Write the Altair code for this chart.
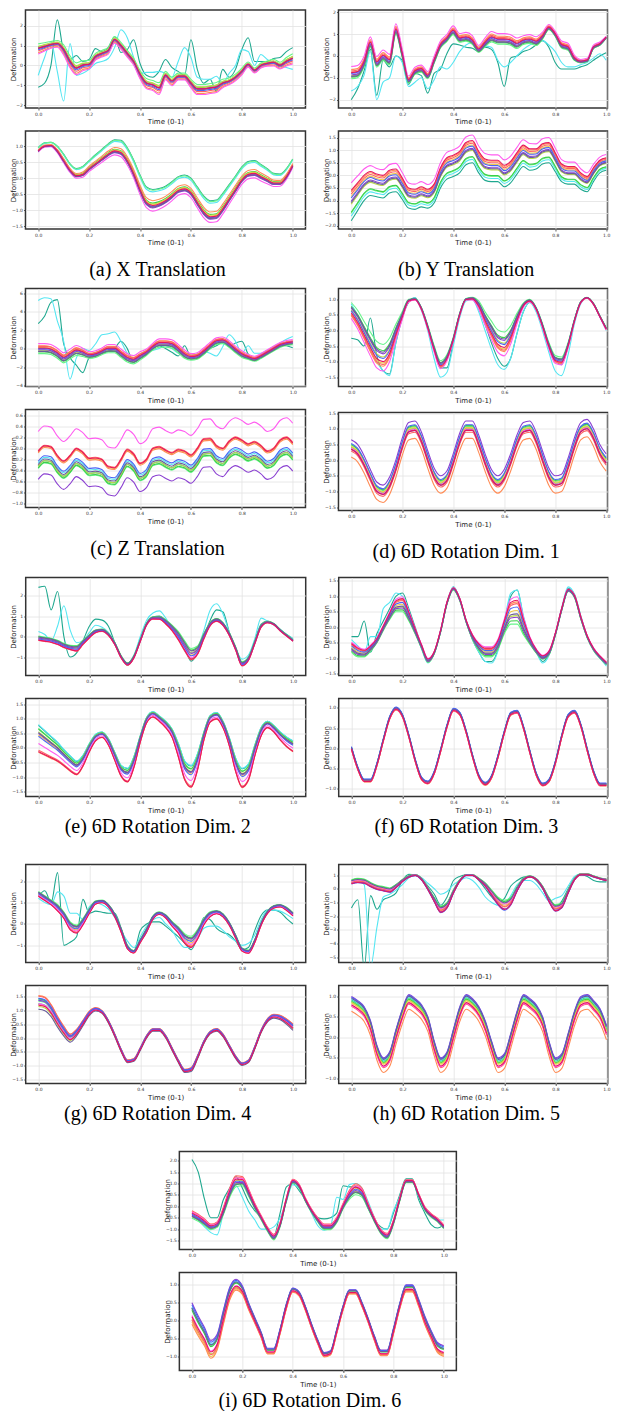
import altair as alt
import pandas as pd

T = [0.0, 0.025, 0.05, 0.075, 0.1, 0.125, 0.15, 0.175, 0.2, 0.225,
     0.25, 0.275, 0.3, 0.325, 0.35, 0.375, 0.4, 0.425, 0.45, 0.475,
     0.5, 0.525, 0.55, 0.575, 0.6, 0.625, 0.65, 0.675, 0.7, 0.725,
     0.75, 0.775, 0.8, 0.825, 0.85, 0.875, 0.9, 0.925, 0.95, 0.975, 1.0]
XTICKS = [0.0, 0.2, 0.4, 0.6, 0.8, 1.0]

SERIES = ["teal", "cyan", "lightgreen", "green", "yellowgreen", "gold", "orange",
          "salmon", "magenta", "purple", "blue", "slate", "crimson"]
COLORS = ["#1fa88f", "#55e6f2", "#66f58a", "#3ccf4a", "#b9d94a", "#eec84a", "#ff8c55",
          "#ff6363", "#ff5cf0", "#8a3fd1", "#4a63f5", "#6a5c9a", "#e6155f"]
BUNDLE = SERIES[2:]

# ---------------- (a) X Translation ----------------
A_TOP_CENTER = [0.85, 0.95, 1.05, 1.1, 0.8, 0.2, -0.15, 0.0, 0.05, 0.45,
                0.6, 0.75, 1.3, 1.0, 0.6, 0.2, -0.45, -0.9, -1.0, -1.15,
                -0.5, -0.8, -0.55, -0.55, -0.9, -1.2, -1.2, -1.15, -1.1, -0.9,
                -0.8, -0.6, -0.3, 0.05, -0.25, 0.0, 0.1, 0.15, 0.0, 0.2, 0.35]
A_TOP_SPREAD = [0.3, 0.25, 0.2, 0.2, 0.3, 0.35, 0.35, 0.3, 0.25, 0.2,
                0.2, 0.2, 0.2, 0.2, 0.2, 0.2, 0.25, 0.3, 0.3, 0.35,
                0.25, 0.25, 0.2, 0.2, 0.25, 0.3, 0.3, 0.3, 0.3, 0.25,
                0.2, 0.2, 0.2, 0.15, 0.15, 0.15, 0.15, 0.2, 0.2, 0.25, 0.3]
A_TOP_TEAL = [-1.1, -0.9, 0.0, 2.3, 0.7, 0.3, 0.5, 0.2, 0.3, 0.85,
              0.7, 0.9, 1.45, 0.65, 0.8, 1.3, 0.1, -0.5, -0.6, -0.3,
              0.3, -0.1, -0.3, -0.5, 1.3, -0.2, -0.9, -0.7, -1.3, -0.2,
              -0.6, -0.2, 0.8, 1.4, 0.2, 0.2, 0.2, 0.35, 0.4, 0.7, 0.9]
A_TOP_CYAN = [-0.5, 0.4, 1.2, -0.3, -1.8, 1.1, -0.5, -0.4, -0.2, 0.1,
              0.2, 0.35, 0.9, 1.8, 1.4, 0.4, -0.4, -0.35, -0.35, -0.3,
              -0.4, -0.6, 0.2, 0.9, 0.4, -0.6, -0.7, -0.7, -0.55, -0.9,
              -0.4, 0.0, 0.8, 0.7, 0.0, 0.55, 0.3, 0.1, 0.0, -0.1, -0.2]
A_TOP_W = [0.8, 0.3, 0.4, 0.2, -0.7, -0.4, -0.9, 0.1, -0.2, 0.0, 0.05]
A_BOT_CENTER = [0.85, 1.0, 1.02, 0.85, 0.55, 0.25, 0.08, 0.12, 0.3, 0.45,
                0.6, 0.75, 0.85, 0.8, 0.55, 0.15, -0.35, -0.75, -0.85, -0.8,
                -0.7, -0.55, -0.38, -0.33, -0.45, -0.75, -1.05, -1.2, -1.18, -0.95,
                -0.65, -0.35, -0.05, 0.12, 0.15, 0.05, -0.05, -0.15, -0.15, 0.05, 0.4]
A_BOT_SPREAD = [0.1, 0.1, 0.1, 0.15, 0.2, 0.2, 0.22, 0.25, 0.25, 0.28,
                0.3, 0.32, 0.35, 0.38, 0.4, 0.42, 0.45, 0.48, 0.5, 0.48,
                0.45, 0.44, 0.43, 0.43, 0.45, 0.48, 0.5, 0.5, 0.5, 0.48,
                0.45, 0.42, 0.4, 0.4, 0.4, 0.38, 0.35, 0.3, 0.28, 0.25, 0.2]
A_BOT_W = [1.0, 0.85, 0.95, 0.15, 0.1, 0.05, 0.3, -0.1, -0.35, -0.15, -0.05, -0.1, 0.0]

# ---------------- (b) Y Translation ----------------
B_TOP_CENTER = [-0.8, -0.75, -0.3, 0.6, -0.3, 0.0, -0.2, 1.2, 0.1, -1.1,
                -0.7, -0.6, -0.9, -0.2, 0.5, 0.8, 1.15, 0.8, 0.85, 0.7,
                0.3, 0.6, 0.85, 0.75, 0.75, 0.7, 0.55, 0.7, 0.75, 0.65,
                0.9, 1.3, 1.0, 0.5, 0.4, -0.1, -0.25, -0.2, 0.4, 0.55, 0.85]
B_TOP_SPREAD = [0.35, 0.35, 0.3, 0.3, 0.3, 0.3, 0.3, 0.3, 0.25, 0.2,
                0.2, 0.2, 0.2, 0.2, 0.2, 0.2, 0.25, 0.25, 0.25, 0.25,
                0.2, 0.25, 0.3, 0.3, 0.3, 0.3, 0.3, 0.25, 0.25, 0.25,
                0.2, 0.15, 0.15, 0.2, 0.2, 0.15, 0.1, 0.1, 0.1, 0.1, 0.05]
B_TOP_TEAL = [-2.0, -1.5, -0.7, 0.3, -1.8, -0.2, -0.5, 0.0, -0.2, -1.3,
              -0.8, -0.9, -1.7, -0.8, -0.6, 0.1, 0.55, 0.5, 0.4, 0.35,
              0.2, 0.4, 0.3, -0.3, -1.4, -0.1, 0.0, 0.2, 0.3, 0.5,
              0.7, 0.4, -0.3, -0.6, -0.6, -0.6, -0.5, -0.4, -0.2, 0.0, 0.15]
B_TOP_CYAN = [-1.6, -1.4, -0.9, 0.2, -2.0, -1.2, -1.0, 0.0, -0.3, -1.4,
              -1.2, -1.0, -1.5, -1.1, -0.5, -0.6, -0.3, 0.2, 0.5, 0.6,
              0.4, 0.45, 0.4, -0.2, -0.5, -0.3, 0.0, 0.3, 0.5, 0.6,
              0.7, 0.5, 0.2, -0.3, -0.5, -0.5, -0.4, -0.3, -0.1, 0.1, -0.2]
B_TOP_W = [-0.7, -0.5, -0.3, 0.1, 0.5, 0.3, 0.9, -0.2, 0.0, -0.4, 0.1]
B_BOT_CENTER = [-0.6, -0.3, 0.0, 0.15, 0.05, 0.0, 0.2, 0.25, -0.1, -0.5,
                -0.55, -0.45, -0.55, -0.35, 0.3, 0.7, 0.8, 0.95, 1.3, 1.38,
                0.95, 0.65, 0.6, 0.6, 0.4, 0.55, 0.9, 1.2, 1.05, 1.05,
                1.25, 1.3, 0.9, 0.45, 0.35, 0.35, 0.1, -0.05, 0.3, 0.6, 0.7]
B_BOT_SPREAD = [1.2, 1.1, 1.0, 0.95, 0.9, 0.9, 0.9, 0.9, 0.85, 0.8,
                0.8, 0.8, 0.75, 0.75, 0.8, 0.85, 0.85, 0.85, 0.88, 0.88,
                0.85, 0.85, 0.85, 0.85, 0.85, 0.85, 0.85, 0.85, 0.85, 0.8,
                0.8, 0.8, 0.75, 0.7, 0.7, 0.7, 0.65, 0.6, 0.55, 0.5, 0.5]
B_BOT_W = [-1.0, -0.85, -0.75, -0.72, -0.45, -0.2, -0.05, -0.12, 0.25, -0.35, -0.25, -0.4, 0.0]

# ---------------- (c) Z Translation ----------------
C_TOP_CENTER = [0.0, 0.0, -0.1, -0.5, -1.0, -0.6, -0.2, -0.4, -0.7, -0.6,
                -0.3, 0.0, 0.0, -0.5, -1.0, -1.2, -0.8, -0.4, 0.2, 0.6,
                0.6, 0.5, 0.0, -0.6, -0.9, -0.8, -0.3, 0.3, 0.8, 0.9,
                0.5, -0.1, -0.6, -0.9, -1.1, -0.8, -0.4, 0.0, 0.4, 0.6, 0.7]
C_TOP_SPREAD = [0.6, 0.6, 0.6, 0.6, 0.6, 0.6, 0.6, 0.5, 0.4, 0.4,
                0.4, 0.5, 0.5, 0.5, 0.5, 0.5, 0.5, 0.4, 0.4, 0.5,
                0.5, 0.5, 0.5, 0.5, 0.4, 0.4, 0.4, 0.4, 0.4, 0.4,
                0.4, 0.4, 0.4, 0.3, 0.3, 0.3, 0.3, 0.3, 0.3, 0.3, 0.3]
C_TOP_TEAL = [2.7, 3.5, 5.0, 5.3, 0.5, -1.0, -1.8, -2.6, -1.0, -0.7,
              -0.5, -0.3, 0.0, 0.8, 0.0, -1.5, -1.0, -0.6, 0.0, 0.3,
              0.0, -0.4, -0.8, 0.3, -0.9, -1.0, -0.6, 0.0, 0.3, 0.7,
              0.2, 0.6, 0.8, -0.6, -1.3, -0.6, -0.2, 0.2, 0.4, 0.3, 0.1]
C_TOP_CYAN = [5.2, 5.5, 5.4, 3.0, 0.8, -3.3, -1.0, 0.0, -0.2, 0.5,
              1.5, 1.6, 1.8, 0.8, -0.5, -1.2, -0.6, -0.3, -0.2, 0.0,
              0.3, 0.0, -0.5, -0.6, -0.7, -0.6, -0.3, -0.5, -0.8, 0.2,
              1.5, 0.8, -0.5, 0.3, -0.5, -0.5, -0.3, 0.2, 0.6, 1.0, 1.3]
C_TOP_W = [-0.9, -0.6, -0.3, 0.2, 0.5, 0.4, 0.9, -0.2, 0.0, -0.5, 0.1]
C_BOT_CENTER = [-0.3, -0.2, -0.22, -0.38, -0.48, -0.38, -0.25, -0.32, -0.43, -0.42,
                -0.45, -0.58, -0.6, -0.45, -0.27, -0.35, -0.52, -0.45, -0.25, -0.22,
                -0.28, -0.33, -0.27, -0.3, -0.37, -0.25, -0.08, -0.07, -0.2, -0.25,
                -0.12, -0.05, -0.1, -0.17, -0.13, -0.2, -0.3, -0.25, -0.1, -0.05, -0.15]
C_BOT_SPREAD = 0.6
C_BOT_W = [-0.05, 0.05, -0.12, -0.1, -0.05, 0.38, 0.35, 0.42, 1.0, -0.45, 0.1, 0.0, 0.4]

# ---------------- (d) 6D Rotation Dim. 1 ----------------
D_TOP_CENTER = [0.6, 0.3, -0.1, -0.5, -0.85, -0.95, -0.7, -0.1, 0.45, 0.95,
                1.0, 0.7, 0.1, -0.6, -1.12, -0.9, -0.3, 0.5, 1.0, 1.02,
                0.8, 0.35, -0.05, -0.4, -0.5, -0.2, 0.35, 0.8, 0.95, 0.7,
                0.15, -0.5, -0.95, -1.0, -0.5, 0.3, 0.9, 1.05, 0.85, 0.45, 0.05]
D_TOP_SPREAD = [0.3, 0.35, 0.4, 0.45, 0.5, 0.5, 0.45, 0.3, 0.15, 0.05,
                0.03, 0.05, 0.08, 0.12, 0.15, 0.12, 0.08, 0.05, 0.03, 0.05,
                0.15, 0.25, 0.35, 0.42, 0.45, 0.35, 0.2, 0.08, 0.05, 0.05,
                0.08, 0.12, 0.15, 0.15, 0.1, 0.05, 0.03, 0.02, 0.03, 0.03, 0.05]
D_TOP_TEAL = [-0.25, -0.3, -0.5, 0.4, -0.8, -1.3, -1.4, -0.4, 0.4, 0.9,
              1.05, 0.7, 0.1, -0.6, -1.2, -1.2, -0.4, 0.45, 1.0, 1.0,
              0.7, 0.2, -0.4, -0.9, -1.15, -0.9, -0.1, 0.6, 0.9, 0.7,
              0.15, -0.5, -0.95, -1.1, -0.5, 0.3, 0.9, 1.05, 0.85, 0.45, 0.05]
D_TOP_CYAN = [0.85, 0.5, 0.1, -0.5, -1.0, -1.3, -1.45, -0.4, 0.4, 0.95,
              1.05, 0.65, 0.0, -0.9, -1.5, -1.35, -0.5, 0.4, 0.95, 1.0,
              0.6, 0.0, -0.6, -1.1, -1.25, -0.9, -0.1, 0.6, 0.9, 0.6,
              0.0, -0.7, -1.3, -1.45, -0.8, 0.2, 0.85, 1.05, 0.85, 0.45, 0.0]
D_TOP_W = [1.0, 0.6, 0.2, -0.2, -0.4, -0.3, -0.7, 0.4, 0.1, 0.5, -0.1]
D_BOT_CENTER = [0.35, 0.2, -0.15, -0.6, -1.0, -1.1, -0.85, -0.3, 0.4, 0.9,
                0.95, 0.6, 0.0, -0.55, -0.8, -0.65, -0.1, 0.55, 0.95, 0.95,
                0.5, -0.1, -0.6, -0.8, -0.6, -0.1, 0.5, 0.9, 0.95, 0.6,
                0.0, -0.55, -0.8, -0.75, -0.25, 0.4, 0.9, 1.0, 0.7, 0.2, -0.1]
D_BOT_SPREAD = 0.3
D_BOT_W = [0.2, 0.1, 0.4, 0.5, 0.2, 0.3, -0.85, -0.2, 0.1, 1.0, 0.6, 0.0, 0.0]

# ---------------- (e) 6D Rotation Dim. 2 ----------------
E_TOP_CENTER = [-0.1, -0.15, -0.2, -0.3, -0.45, -0.55, -0.6, -0.3, 0.0, 0.25,
                0.3, 0.1, -0.35, -1.0, -1.35, -1.0, -0.2, 0.6, 0.9, 0.9,
                0.7, 0.4, 0.0, -0.5, -0.9, -0.7, 0.0, 0.6, 0.8, 0.6,
                0.1, -0.6, -1.35, -1.1, -0.3, 0.5, 0.7, 0.6, 0.3, 0.05, -0.2]
E_TOP_SPREAD = [0.15, 0.15, 0.15, 0.15, 0.15, 0.15, 0.2, 0.15, 0.12, 0.1,
                0.08, 0.08, 0.08, 0.08, 0.08, 0.08, 0.08, 0.08, 0.08, 0.1,
                0.15, 0.2, 0.3, 0.35, 0.4, 0.3, 0.2, 0.12, 0.1, 0.1,
                0.1, 0.12, 0.15, 0.12, 0.1, 0.08, 0.05, 0.05, 0.05, 0.05, 0.05]
E_TOP_TEAL = [2.4, 2.45, 1.3, 2.2, 0.0, -1.0, -0.8, -0.2, 0.5, 0.85,
              0.8, 0.5, -0.3, -1.0, -1.4, -1.0, -0.2, 0.6, 0.95, 1.0,
              0.8, 0.5, 0.0, -0.6, -1.2, -0.8, 0.0, 0.8, 1.3, 1.2,
              0.2, -0.6, -1.4, -1.0, -0.2, 0.6, 0.75, 0.6, 0.35, 0.1, -0.1]
E_TOP_CYAN = [0.25, 0.1, -0.2, 0.5, 1.5, 0.3, -0.3, -0.2, 0.2, 0.55,
              0.45, 0.2, -0.3, -1.0, -1.3, -0.9, 0.0, 0.8, 1.15, 1.25,
              0.9, 0.4, -0.1, -0.7, -1.1, -0.6, 0.3, 1.3, 1.6, 1.1,
              0.2, -0.6, -1.1, -0.9, -0.1, 0.9, 0.75, 0.55, 0.35, 0.1, -0.1]
E_TOP_W = [0.8, 0.6, 0.3, 0.0, -0.4, -0.6, -0.3, 0.2, -0.1, 0.5, -0.5]
E_BOT_CENTER = [0.3, 0.15, 0.0, -0.15, -0.35, -0.55, -0.7, -0.45, 0.0, 0.35,
                0.45, 0.2, -0.3, -0.8, -0.95, -0.5, 0.3, 0.95, 1.15, 1.0,
                0.8, 0.5, -0.1, -0.8, -1.0, -0.5, 0.4, 1.0, 1.1, 0.8,
                0.2, -0.6, -1.05, -0.85, -0.1, 0.55, 0.8, 0.65, 0.4, 0.2, 0.05]
E_BOT_SPREAD = [0.5, 0.45, 0.4, 0.35, 0.3, 0.28, 0.25, 0.2, 0.15, 0.12,
                0.1, 0.12, 0.15, 0.2, 0.25, 0.2, 0.12, 0.1, 0.1, 0.1,
                0.12, 0.15, 0.25, 0.35, 0.4, 0.3, 0.15, 0.12, 0.12, 0.12,
                0.15, 0.25, 0.35, 0.3, 0.2, 0.15, 0.12, 0.12, 0.15, 0.18, 0.2]
E_BOT_W = [0.95, 1.0, 0.75, 0.7, 0.5, 0.3, -0.9, -0.75, -0.3, 0.4, 0.2, 0.45, -0.85]

# ---------------- (f) 6D Rotation Dim. 3 ----------------
F_TOP_CENTER = [-0.6, -0.75, -0.8, -0.65, -0.4, 0.0, 0.4, 0.75, 0.8, 0.4,
                -0.1, -0.6, -1.05, -0.8, -0.1, 0.8, 1.25, 0.9, 0.2, -0.3,
                -0.6, -0.75, -0.75, -0.5, 0.1, 0.6, 0.65, 0.1, -0.4, -0.75,
                -0.95, -0.8, -0.2, 0.6, 1.2, 1.0, 0.3, -0.3, -0.7, -0.95, -1.15]
F_TOP_SPREAD = [0.2, 0.2, 0.15, 0.12, 0.1, 0.1, 0.15, 0.25, 0.3, 0.2,
                0.12, 0.08, 0.08, 0.05, 0.05, 0.05, 0.05, 0.05, 0.05, 0.1,
                0.15, 0.2, 0.2, 0.2, 0.3, 0.5, 0.55, 0.35, 0.15, 0.08,
                0.08, 0.08, 0.05, 0.05, 0.05, 0.05, 0.05, 0.05, 0.05, 0.05, 0.05]
F_TOP_TEAL = [-0.3, -0.3, 0.2, -0.8, -0.2, 0.2, 0.6, 1.0, 1.1, 0.6,
              0.0, -0.6, -1.1, -0.8, -0.1, 0.8, 1.3, 0.9, 0.2, -0.4,
              -0.8, -1.1, -1.1, -0.7, 0.2, 1.0, 1.2, 0.3, -0.4, -0.8,
              -1.1, -0.85, -0.2, 0.6, 1.25, 1.05, 0.35, -0.3, -0.7, -0.95, -1.2]
F_TOP_CYAN = [-0.4, -0.6, -0.8, -0.3, -0.3, 0.6, 0.8, 1.1, 1.0, 0.5,
              -0.1, -0.7, -1.15, -0.8, -0.1, 0.8, 1.3, 0.9, 0.2, -0.4,
              -0.8, -1.1, -1.15, -0.75, 0.2, 1.1, 1.2, 0.35, -0.35, -0.8,
              -1.15, -0.9, -0.2, 0.65, 1.3, 1.05, 0.35, -0.3, -0.75, -1.0, -1.25]
F_TOP_W = [-1.0, -0.8, -0.5, -0.2, 0.3, 0.2, 0.6, -0.6, 0.0, -0.4, 0.4]
F_BOT_CENTER = [0.0, -0.5, -0.8, -0.8, -0.4, 0.2, 0.75, 0.98, 0.8, 0.3,
                -0.3, -0.75, -0.85, -0.6, -0.05, 0.55, 0.95, 0.85, 0.4, -0.2,
                -0.7, -0.88, -0.7, -0.2, 0.4, 0.85, 0.9, 0.5, -0.1, -0.65,
                -0.9, -0.8, -0.35, 0.3, 0.8, 0.9, 0.55, -0.05, -0.6, -0.9, -0.9]
F_BOT_SPREAD = 0.04
F_BOT_W = [0.5, 0.8, 0.3, 0.2, -0.2, -0.5, -0.8, -0.6, -0.3, 0.6, 1.0, 0.4, -0.4]

# ---------------- (g) 6D Rotation Dim. 4 ----------------
G_TOP_CENTER = [1.4, 1.2, 1.0, 0.75, 0.4, -0.1, -0.25, 0.1, 0.6, 1.0,
                1.05, 0.85, 0.4, -0.3, -1.1, -1.3, -0.8, -0.3, 0.3, 0.5,
                0.35, 0.0, -0.3, -0.7, -0.85, -0.5, 0.1, 0.45, 0.55, 0.4,
                0.0, -0.6, -1.2, -1.3, -0.8, 0.0, 0.55, 0.8, 0.85, 0.7, 0.45]
G_TOP_SPREAD = [0.15, 0.15, 0.15, 0.2, 0.2, 0.25, 0.25, 0.2, 0.15, 0.1,
                0.08, 0.08, 0.1, 0.12, 0.1, 0.08, 0.1, 0.12, 0.1, 0.08,
                0.1, 0.15, 0.2, 0.3, 0.35, 0.3, 0.2, 0.15, 0.1, 0.1,
                0.1, 0.1, 0.1, 0.1, 0.1, 0.08, 0.08, 0.08, 0.08, 0.1, 0.1]
G_TOP_TEAL = [1.3, 1.55, 1.0, 2.4, -1.0, -0.85, -0.6, 1.15, 0.5, 0.6,
              0.55, 0.5, 0.5, -0.2, -1.0, -1.25, -0.3, 0.0, 0.1, 0.1,
              -0.1, -0.35, -0.6, -0.9, -1.2, -0.6, 0.3, 0.2, -0.2, -0.4,
              -0.5, -0.8, -1.2, -1.1, -0.3, 0.4, 0.65, 0.65, 0.55, 0.25, 0.0]
G_TOP_CYAN = [1.2, 1.0, 0.9, 1.5, 1.3, 0.5, 0.5, 0.2, 0.8, 1.0,
              0.9, 0.7, 0.3, -0.3, -0.8, -1.1, -0.6, -0.1, 0.2, 0.3,
              0.0, -0.3, -0.8, -1.1, -1.1, -0.7, -0.2, -0.1, -0.1, -0.3,
              -0.6, -0.8, -1.0, -0.9, -0.5, 0.2, 0.65, 0.65, 0.6, 0.45, 0.25]
G_TOP_W = [0.8, 0.6, 0.2, -0.1, -0.5, -0.6, -0.3, 0.4, 0.1, 0.5, -0.7]
G_BOT_CENTER = [1.3, 1.25, 1.0, 0.6, 0.25, 0.0, 0.2, 0.55, 0.9, 1.05,
                0.95, 0.6, 0.1, -0.45, -0.85, -0.8, -0.4, 0.05, 0.3, 0.3,
                0.05, -0.4, -0.85, -1.2, -1.15, -0.7, -0.15, 0.2, 0.3, 0.1,
                -0.3, -0.7, -0.95, -0.85, -0.35, 0.25, 0.65, 0.8, 0.75, 0.6, 0.4]
G_BOT_SPREAD = [0.25, 0.25, 0.22, 0.2, 0.18, 0.15, 0.12, 0.1, 0.08, 0.06,
                0.05, 0.05, 0.05, 0.05, 0.05, 0.05, 0.05, 0.05, 0.05, 0.05,
                0.05, 0.05, 0.05, 0.06, 0.07, 0.06, 0.05, 0.05, 0.05, 0.05,
                0.05, 0.05, 0.05, 0.05, 0.05, 0.05, 0.06, 0.07, 0.08, 0.1, 0.12]
G_BOT_W = [-0.2, 0.4, 0.2, 0.5, -0.6, -0.3, 1.0, 0.9, -0.2, 0.3, 0.6, -1.0, -0.4]

# ---------------- (h) 6D Rotation Dim. 5 ----------------
H_TOP_CENTER = [0.5, 0.6, 0.55, 0.3, 0.1, 0.0, -0.1, 0.2, 0.6, 0.9,
                1.0, 0.7, 0.0, -0.8, -1.5, -1.2, -0.2, 0.6, 1.0, 1.0,
                0.7, 0.3, -0.3, -0.9, -1.2, -0.9, 0.0, 0.7, 0.9, 0.7,
                0.1, -0.8, -1.4, -1.2, -0.2, 0.7, 1.05, 1.05, 0.9, 0.75, 0.65]
H_TOP_SPREAD = [0.2, 0.2, 0.2, 0.2, 0.2, 0.2, 0.2, 0.15, 0.1, 0.08,
                0.05, 0.08, 0.1, 0.2, 0.3, 0.25, 0.15, 0.08, 0.05, 0.05,
                0.08, 0.15, 0.25, 0.35, 0.45, 0.35, 0.2, 0.1, 0.05, 0.05,
                0.1, 0.2, 0.3, 0.25, 0.15, 0.08, 0.05, 0.05, 0.05, 0.05, 0.08]
H_TOP_TEAL = [-1.4, -0.8, -5.8, -0.5, -1.5, -0.8, -0.6, -0.3, 0.6, 1.05,
              1.0, 0.7, 0.2, -0.4, -1.2, -0.6, 0.6, 0.9, 1.0, 1.0,
              0.6, 0.0, -0.6, -1.0, -0.7, 0.2, 0.6, 0.85, 0.9, 0.6,
              0.0, -0.8, -1.3, -0.9, 0.0, 0.8, 1.0, 0.9, 0.6, 0.5, 0.5]
H_TOP_CYAN = [0.6, 0.6, 0.3, -5.7, -2.8, -0.6, -0.4, -0.1, 0.3, 0.8,
              1.0, 0.8, 0.4, 0.0, -0.4, -0.2, 0.3, 0.6, 0.8, 0.6,
              0.1, -0.6, -1.0, -1.2, -1.1, -0.5, 0.3, 0.6, 0.6, 0.3,
              -0.3, -0.9, -0.7, -0.5, 0.2, 0.9, 1.1, 1.0, 0.85, 0.75, 0.65]
H_TOP_W = [0.8, 0.6, 0.3, 0.0, -0.3, -0.2, 0.2, -0.6, -0.8, 0.4, -0.7]
H_BOT_CENTER = [0.8, 0.7, 0.55, 0.2, -0.4, -0.7, -0.55, 0.0, 0.5, 0.85,
                0.75, 0.6, 0.3, -0.3, -0.7, -0.55, 0.0, 0.55, 0.85, 0.75,
                0.55, 0.2, -0.3, -0.7, -0.6, -0.1, 0.45, 0.85, 0.75, 0.6,
                0.3, -0.3, -0.7, -0.6, -0.1, 0.45, 0.8, 0.85, 0.7, 0.5, 0.1]
H_BOT_SPREAD = 0.2
H_BOT_W = [0.6, 0.7, 0.5, 0.4, 0.3, 0.2, -0.8, -0.2, -0.1, 1.0, 0.9, 0.8, 0.0]

# ---------------- (i) 6D Rotation Dim. 6 ----------------
I_TOP_CENTER = [-0.35, -0.5, -0.7, -0.9, -0.8, -0.2, 0.6, 1.1, 1.1, 0.6,
                0.0, -0.5, -1.0, -1.35, -0.8, 0.3, 1.1, 0.9, 0.3, -0.2,
                -0.6, -0.9, -0.9, -0.6, 0.0, 0.5, 0.75, 0.6, 0.0, -0.6,
                -1.1, -1.3, -0.7, 0.3, 1.1, 1.1, 0.5, -0.1, -0.4, -0.6, -0.9]
I_TOP_SPREAD = [0.2, 0.2, 0.18, 0.15, 0.15, 0.2, 0.25, 0.3, 0.25, 0.2,
                0.15, 0.12, 0.12, 0.15, 0.12, 0.1, 0.1, 0.1, 0.1, 0.1,
                0.12, 0.15, 0.15, 0.15, 0.15, 0.25, 0.3, 0.25, 0.15, 0.12,
                0.12, 0.15, 0.12, 0.1, 0.08, 0.08, 0.08, 0.1, 0.1, 0.1, 0.1]
I_TOP_TEAL = [2.05, 1.5, 0.3, -0.5, -0.5, 0.3, 0.8, 1.3, 0.8, 0.2,
              -0.2, -0.5, -1.0, -1.3, -0.3, 0.85, 1.0, 0.7, 0.3, -0.2,
              -0.5, -0.55, -0.5, -0.3, 0.9, 0.85, 0.85, 0.5, -0.1, -0.6,
              -0.9, -1.0, -0.3, 0.5, 1.2, 1.2, 0.3, -0.3, -0.8, -0.95, -0.8]
I_TOP_CYAN = [-0.3, -0.6, -0.9, -1.15, -1.25, -0.3, 0.5, 0.9, 0.4, -0.2,
              -0.6, -1.0, -1.0, -0.9, -0.5, 0.2, 0.95, 0.8, 0.3, -0.3,
              -0.85, -1.05, -0.9, 0.4, 0.3, 0.95, 1.0, 0.8, 0.2, -0.5,
              -1.0, -1.0, -0.2, 0.4, 1.05, 1.1, 0.4, -0.1, -0.4, -0.6, -0.6]
I_TOP_W = [-0.8, -0.5, -0.3, 0.1, 0.6, 0.8, 0.5, -0.2, 0.0, -0.4, 0.3]
I_BOT_CENTER = [0.2, -0.15, -0.45, -0.8, -0.6, 0.1, 0.75, 1.0, 0.85, 0.4,
                0.0, -0.4, -0.85, -0.85, -0.3, 0.4, 0.85, 0.75, 0.35, -0.15,
                -0.6, -0.95, -0.9, -0.3, 0.35, 0.8, 0.8, 0.45, 0.0, -0.5,
                -0.9, -0.9, -0.3, 0.4, 0.9, 0.9, 0.5, 0.0, -0.4, -0.75, -0.85]
I_BOT_SPREAD = [0.3, 0.28, 0.26, 0.25, 0.22, 0.2, 0.18, 0.15, 0.12, 0.1,
                0.08, 0.08, 0.08, 0.08, 0.07, 0.07, 0.06, 0.06, 0.06, 0.06,
                0.06, 0.06, 0.06, 0.06, 0.06, 0.06, 0.06, 0.06, 0.06, 0.07,
                0.08, 0.08, 0.08, 0.08, 0.1, 0.1, 0.1, 0.12, 0.12, 0.14, 0.15]
I_BOT_W = [0.5, 0.6, 0.4, 0.3, -0.5, -0.8, -1.0, -0.6, -0.2, 1.0, 0.8, 0.5, -0.3]


def as_list(spread):
    return spread if isinstance(spread, list) else [spread] * len(T)


def top_df(center, spread, teal, cyan, weights):
    sp = as_list(spread)
    rows = []
    for k, t in enumerate(T):
        rows.append({"s": "teal", "t": t, "v": teal[k]})
    for k, t in enumerate(T):
        rows.append({"s": "cyan", "t": t, "v": cyan[k]})
    for name, w in zip(BUNDLE, weights):
        for k, t in enumerate(T):
            rows.append({"s": name, "t": t, "v": center[k] + w * sp[k]})
    return pd.DataFrame(rows)


def bot_df(center, spread, weights):
    sp = as_list(spread)
    rows = []
    for name, w in zip(SERIES, weights):
        for k, t in enumerate(T):
            rows.append({"s": name, "t": t, "v": center[k] + w * sp[k]})
    return pd.DataFrame(rows)


H = 98


def panel(df, ydom, yticks, yfmt, width, xdom):
    return alt.Chart(df).mark_line(strokeWidth=1.1, clip=True, interpolate="monotone").encode(
        x=alt.X("t:Q", scale=alt.Scale(domain=xdom, nice=False, zero=False),
                axis=alt.Axis(values=XTICKS, format=".1f", title="Time (0-1)")),
        y=alt.Y("v:Q", scale=alt.Scale(domain=ydom, nice=False, zero=False),
                axis=alt.Axis(values=yticks, format=yfmt, title="Deformation")),
        color=alt.Color("s:N", scale=alt.Scale(domain=SERIES, range=COLORS), legend=None),
    ).properties(width=width, height=H)


LEFT = (280, [-0.05, 1.05])
RIGHT = (269, [-0.05, 1.005])
CENTER = (277, [-0.05, 1.05])


def column(top, bot, caption, offset):
    return alt.vconcat(top, bot, spacing=4).properties(
        title=alt.TitleParams(caption, orient="bottom", offset=offset, fontSize=20,
                              font="Liberation Serif", fontWeight="normal", anchor="middle",
                              color="black"))


def sub(tp, bp, caption, offset, geo):
    w, xd = geo
    top = panel(tp[0], tp[1], tp[2], tp[3], w, xd)
    bot = panel(bp[0], bp[1], bp[2], bp[3], w, xd)
    return column(top, bot, caption, offset)


T_INT = "d"
T_DEC = ".1f"
OFF1 = 14
OFF2 = 3

sa = sub((top_df(A_TOP_CENTER, A_TOP_SPREAD, A_TOP_TEAL, A_TOP_CYAN, A_TOP_W), [-2.15, 2.8], [-2, -1, 0, 1, 2], T_INT),
         (bot_df(A_BOT_CENTER, A_BOT_SPREAD, A_BOT_W), [-1.58, 1.47], [-1.5, -1.0, -0.5, 0.0, 0.5, 1.0], T_DEC),
         "(a) X Translation", OFF1, LEFT)
sb = sub((top_df(B_TOP_CENTER, B_TOP_SPREAD, B_TOP_TEAL, B_TOP_CYAN, B_TOP_W), [-2.38, 2.1], [-2, -1, 0, 1, 2], T_INT),
         (bot_df(B_BOT_CENTER, B_BOT_SPREAD, B_BOT_W), [-2.13, 1.76], [-2.0, -1.5, -1.0, -0.5, 0.0, 0.5, 1.0, 1.5], T_DEC),
         "(b) Y Translation", OFF1, RIGHT)
sc = sub((top_df(C_TOP_CENTER, C_TOP_SPREAD, C_TOP_TEAL, C_TOP_CYAN, C_TOP_W), [-4.1, 6.5], [-4, -2, 0, 2, 4, 6], T_INT),
         (bot_df(C_BOT_CENTER, C_BOT_SPREAD, C_BOT_W), [-1.08, 0.70], [-1.0, -0.8, -0.6, -0.4, -0.2, 0.0, 0.2, 0.4, 0.6], T_DEC),
         "(c) Z Translation", OFF1, LEFT)
sd = sub((top_df(D_TOP_CENTER, D_TOP_SPREAD, D_TOP_TEAL, D_TOP_CYAN, D_TOP_W), [-1.8, 1.35], [-1.5, -1.0, -0.5, 0.0, 0.5, 1.0], T_DEC),
         (bot_df(D_BOT_CENTER, D_BOT_SPREAD, D_BOT_W), [-1.61, 1.52], [-1.5, -1.0, -0.5, 0.0, 0.5, 1.0, 1.5], T_DEC),
         "(d) 6D Rotation Dim. 1", OFF1, RIGHT)
se = sub((top_df(E_TOP_CENTER, E_TOP_SPREAD, E_TOP_TEAL, E_TOP_CYAN, E_TOP_W), [-1.9, 2.88], [-1, 0, 1, 2], T_INT),
         (bot_df(E_BOT_CENTER, E_BOT_SPREAD, E_BOT_W), [-1.67, 1.70], [-1.5, -1.0, -0.5, 0.0, 0.5, 1.0, 1.5], T_DEC),
         "(e) 6D Rotation Dim. 2", OFF2, LEFT)
sf = sub((top_df(F_TOP_CENTER, F_TOP_SPREAD, F_TOP_TEAL, F_TOP_CYAN, F_TOP_W), [-1.55, 1.6], [-1.5, -1.0, -0.5, 0.0, 0.5, 1.0, 1.5], T_DEC),
         (bot_df(F_BOT_CENTER, F_BOT_SPREAD, F_BOT_W), [-1.19, 1.23], [-1.0, -0.5, 0.0, 0.5, 1.0], T_DEC),
         "(f) 6D Rotation Dim. 3", OFF2, RIGHT)
sg = sub((top_df(G_TOP_CENTER, G_TOP_SPREAD, G_TOP_TEAL, G_TOP_CYAN, G_TOP_W), [-1.8, 2.78], [-1, 0, 1, 2], T_INT),
         (bot_df(G_BOT_CENTER, G_BOT_SPREAD, G_BOT_W), [-1.66, 1.92], [-1.5, -1.0, -0.5, 0.0, 0.5, 1.0, 1.5], T_DEC),
         "(g) 6D Rotation Dim. 4", OFF2, LEFT)
sh = sub((top_df(H_TOP_CENTER, H_TOP_SPREAD, H_TOP_TEAL, H_TOP_CYAN, H_TOP_W), [-5.38, 1.77], [-5, -4, -3, -2, -1, 0, 1], T_INT),
         (bot_df(H_BOT_CENTER, H_BOT_SPREAD, H_BOT_W), [-1.13, 1.27], [-1.0, -0.5, 0.0, 0.5, 1.0], T_DEC),
         "(h) 6D Rotation Dim. 5", OFF2, RIGHT)
si = sub((top_df(I_TOP_CENTER, I_TOP_SPREAD, I_TOP_TEAL, I_TOP_CYAN, I_TOP_W), [-1.89, 2.4], [-1.5, -1.0, -0.5, 0.0, 0.5, 1.0, 1.5, 2.0], T_DEC),
         (bot_df(I_BOT_CENTER, I_BOT_SPREAD, I_BOT_W), [-1.39, 1.34], [-1.0, -0.5, 0.0, 0.5, 1.0], T_DEC),
         "(i) 6D Rotation Dim. 6", OFF2, CENTER)

row_a = alt.hconcat(sa, sb, spacing=15)
row_c = alt.hconcat(sc, sd, spacing=15)
row_e = alt.hconcat(se, sf, spacing=15)
row_g = alt.hconcat(sg, sh, spacing=15)

chart = alt.vconcat(
    alt.vconcat(row_a, row_c, spacing=6.5),
    alt.vconcat(row_e, row_g, si, spacing=26, center=True),
    spacing=14.5, center=True,
).properties(padding={"left": 0, "top": 0, "right": 0, "bottom": 0}).configure_axis(
    labelFont="DejaVu Sans", labelFontSize=4.5, labelColor="#333333",
    tickSize=2, tickColor="#333333", tickWidth=0.8, labelPadding=1,
    titleFont="DejaVu Sans", titleFontSize=7, titleFontWeight="normal", titleColor="#222222",
    gridColor="#e2e2e2", gridWidth=0.8, domain=False, labelOverlap=False,
).configure_axisY(minExtent=8, maxExtent=8, titlePadding=1).configure_axisX(
    minExtent=8, maxExtent=8, titlePadding=1.5
).configure_view(stroke="#333333", strokeWidth=1.5).configure_title(
    font="Liberation Serif", fontSize=20, fontWeight="normal", color="black"
)

chart.save("out.html", embed_options={"renderer": "svg", "actions": False})
